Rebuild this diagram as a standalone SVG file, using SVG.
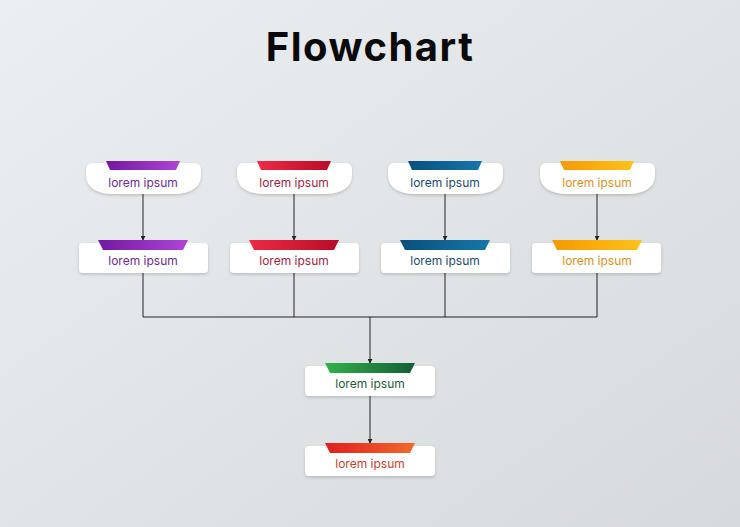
<svg xmlns="http://www.w3.org/2000/svg" width="740" height="527" viewBox="0 0 740 527">
<defs>
<linearGradient id="bg" x1="0" y1="0" x2="1" y2="1"><stop offset="0" stop-color="#eceff1"/><stop offset="1" stop-color="#d5dadd"/></linearGradient>
<linearGradient id="gp" x1="0" x2="1"><stop offset="0" stop-color="#7318a0"/><stop offset="1" stop-color="#ae45d6"/></linearGradient>
<linearGradient id="gr" x1="0" x2="1"><stop offset="0" stop-color="#ef2a45"/><stop offset="1" stop-color="#b80c28"/></linearGradient>
<linearGradient id="gb" x1="0" x2="1"><stop offset="0" stop-color="#0a4f7c"/><stop offset="1" stop-color="#1577a8"/></linearGradient>
<linearGradient id="go" x1="0" x2="1"><stop offset="0" stop-color="#f59a00"/><stop offset="1" stop-color="#ffc21a"/></linearGradient>
<linearGradient id="gg" x1="0" x2="1"><stop offset="0" stop-color="#35b04c"/><stop offset="1" stop-color="#125e35"/></linearGradient>
<linearGradient id="gx" x1="0" x2="1"><stop offset="0" stop-color="#e01e1e"/><stop offset="1" stop-color="#f26a2a"/></linearGradient>
<filter id="sh" x="-10%" y="-20%" width="120%" height="160%"><feDropShadow dx="0" dy="1.5" stdDeviation="1.5" flood-color="#000" flood-opacity="0.18"/></filter>
<marker id="ar" viewBox="0 0 6 6" refX="5" refY="3" markerWidth="5" markerHeight="5" orient="auto"><path d="M0,0 L6,3 L0,6 Z" fill="#222"/></marker>
</defs>
<style>
.box{fill:#fff;filter:url(#sh)}
.t{font-family:Inter,"Open Sans",sans-serif;font-size:12px;text-anchor:middle}
.c{stroke:#222;stroke-width:1;fill:none}
</style>
<rect width="740" height="527" fill="url(#bg)"/>
<text x="370" y="61" font-family="Inter,'Open Sans',sans-serif" font-weight="700" font-size="40" letter-spacing="1.5" text-anchor="middle" fill="#0a0a0a">Flowchart</text>
<g id="connectors">
<path class="c" d="M143,194 V240" marker-end="url(#ar)"/>
<path class="c" d="M294,194 V240" marker-end="url(#ar)"/>
<path class="c" d="M445,194 V240" marker-end="url(#ar)"/>
<path class="c" d="M597,194 V240" marker-end="url(#ar)"/>
<path class="c" d="M143,273 V317 M294,273 V317 M445,273 V317 M597,273 V317 M143,317 H597"/>
<path class="c" d="M370,317 V363" marker-end="url(#ar)"/>
<path class="c" d="M370,396 V443" marker-end="url(#ar)"/>
</g>
<g id="n1"><path class="box" d="M86,170 Q86,163 93,163 H194 Q201,163 201,170 V174 Q201,194 172,194 H115 Q86,194 86,174 Z"/><path d="M106,161 H180 L176,170 H110 Z" fill="url(#gp)"/><text class="t" x="143" y="187" fill="#6b2a8c">lorem ipsum</text></g>
<g id="n2"><path class="box" d="M237,170 Q237,163 244,163 H345 Q352,163 352,170 V174 Q352,194 323,194 H266 Q237,194 237,174 Z"/><path d="M257,161 H331 L327,170 H261 Z" fill="url(#gr)"/><text class="t" x="294" y="187" fill="#9a2545">lorem ipsum</text></g>
<g id="n3"><path class="box" d="M388,170 Q388,163 395,163 H496 Q503,163 503,170 V174 Q503,194 474,194 H417 Q388,194 388,174 Z"/><path d="M408,161 H482 L478,170 H412 Z" fill="url(#gb)"/><text class="t" x="445" y="187" fill="#1d4a6c">lorem ipsum</text></g>
<g id="n4"><path class="box" d="M540,170 Q540,163 547,163 H648 Q655,163 655,170 V174 Q655,194 626,194 H569 Q540,194 540,174 Z"/><path d="M560,161 H634 L630,170 H564 Z" fill="url(#go)"/><text class="t" x="597" y="187" fill="#d8921e">lorem ipsum</text></g>
<g id="n5"><rect class="box" x="79" y="243" width="129" height="30" rx="4"/><path d="M98,240 H188 L183,250 H103 Z" fill="url(#gp)"/><text class="t" x="143" y="265" fill="#6b2a8c">lorem ipsum</text></g>
<g id="n6"><rect class="box" x="230" y="243" width="129" height="30" rx="4"/><path d="M249,240 H339 L334,250 H254 Z" fill="url(#gr)"/><text class="t" x="294" y="265" fill="#9a2545">lorem ipsum</text></g>
<g id="n7"><rect class="box" x="381" y="243" width="129" height="30" rx="4"/><path d="M400,240 H490 L485,250 H405 Z" fill="url(#gb)"/><text class="t" x="445" y="265" fill="#1d4a6c">lorem ipsum</text></g>
<g id="n8"><rect class="box" x="532" y="243" width="129" height="30" rx="4"/><path d="M552,240 H642 L637,250 H557 Z" fill="url(#go)"/><text class="t" x="597" y="265" fill="#d8921e">lorem ipsum</text></g>
<g id="n9"><rect class="box" x="305" y="366" width="130" height="30" rx="4"/><path d="M325,363 H415 L410,373 H330 Z" fill="url(#gg)"/><text class="t" x="370" y="388" fill="#1f5a3c">lorem ipsum</text></g>
<g id="n10"><rect class="box" x="305" y="446" width="130" height="30" rx="4"/><path d="M325,443 H415 L410,453 H330 Z" fill="url(#gx)"/><text class="t" x="370" y="468" fill="#c2432f">lorem ipsum</text></g>
</svg>
